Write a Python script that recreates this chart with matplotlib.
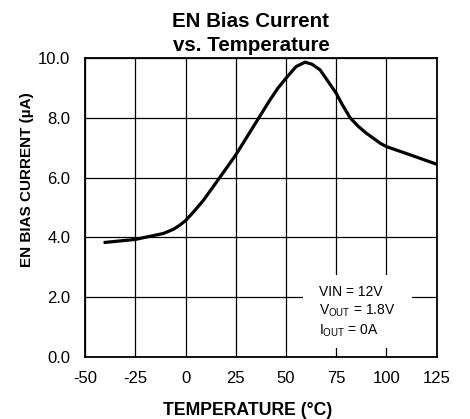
import numpy as np
import matplotlib
matplotlib.use("Agg")
import matplotlib.pyplot as plt
from matplotlib.patches import Rectangle

plt.rcParams['font.family'] = ['Liberation Sans', 'DejaVu Sans']
plt.rcParams['mathtext.fontset'] = 'custom'
plt.rcParams['mathtext.rm'] = 'Liberation Sans'
plt.rcParams['axes.unicode_minus'] = False

# EN bias current vs. junction temperature
temp_c = [-40, -25, -11, -6, -3, 0, 4, 9, 17, 25, 36, 42, 46, 50, 55, 59.5, 63, 67, 75, 78,
          82, 86, 90, 97, 100, 112, 125]
bias_ua = [3.83, 3.93, 4.13, 4.27, 4.4, 4.56, 4.85, 5.25, 6.0, 6.76, 7.95, 8.6, 9.0, 9.33, 9.72,
           9.87, 9.8, 9.61, 8.83, 8.45, 8.0, 7.72, 7.49, 7.15, 7.04, 6.76, 6.45]

x_ticks = [-50, -25, 0, 25, 50, 75, 100, 125]
y_ticks = [0.0, 2.0, 4.0, 6.0, 8.0, 10.0]
conditions = ["VIN = 12V", r"V$_{\mathrm{OUT}}$ = 1.8V", r"I$_{\mathrm{OUT}}$ = 0A"]

fig = plt.figure(figsize=(4.7, 4.19), dpi=100)
ax = fig.add_axes([0.181, 0.1487, 0.748, 0.7122])

ax.plot(temp_c, bias_ua, color='black', lw=2.3, solid_joinstyle='round', zorder=3)

ax.set_xlim(-50, 125)
ax.set_ylim(0, 10)
ax.set_xticks(x_ticks)
ax.set_yticks(y_ticks)
ax.set_yticklabels([f"{v:.1f}" for v in y_ticks])
ax.tick_params(length=0, labelsize=12, pad=10.5)
ax.set_axisbelow(True)
ax.grid(True, color='black', lw=0.9)
for sp in ax.spines.values():
    sp.set_linewidth(1.3)

# white panel for the test conditions
ax.add_patch(Rectangle((58.5, 0.29), 54.2, 2.45, facecolor='white', edgecolor='none', zorder=1.5))
for i, line in enumerate(conditions):
    ax.text(66.3, 2.05 - i * 0.65, line, fontsize=10, va='baseline', ha='left', zorder=4)

ax.set_xlabel("TEMPERATURE (°C)", fontsize=12.7, fontweight='bold')
ax.xaxis.set_label_coords(0.461, -0.151)
ax.set_ylabel("EN BIAS CURRENT (µA)", fontsize=11, fontweight='bold')
ax.yaxis.set_label_coords(-0.145, 0.592)

fig.text(0.534, 0.972, "EN Bias Current\nvs. Temperature", fontsize=14.8, fontweight='bold',
         ha='center', va='top', linespacing=1.33, multialignment='center')

fig.savefig("out.png", dpi=100)
